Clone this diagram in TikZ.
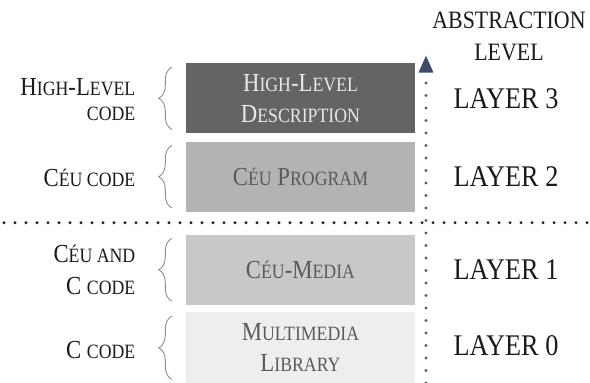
\documentclass[tikz,border=0pt]{standalone}
\usepackage{fontspec}
\setmainfont{Liberation Serif}[FakeStretch=0.875]
\usetikzlibrary{decorations.pathreplacing,arrows.meta}

\definecolor{fillthree}{HTML}{646464}
\definecolor{filltwo}{HTML}{B3B3B3}
\definecolor{fillone}{HTML}{C8C8C8}
\definecolor{fillzero}{HTML}{EEEEEE}
\definecolor{boxink}{HTML}{5A5A5A}
\definecolor{lightink}{HTML}{E8E8E8}
\definecolor{labelink}{HTML}{1A1A1A}
\definecolor{bracegray}{HTML}{8C8C8C}
\definecolor{arrowblue}{HTML}{3C4B68}
\definecolor{dotblue}{HTML}{525A6E}

% faked small capitals: lower-case letters set as smaller capitals
\newcommand\lo[1]{{\fontsize{20.3}{20.3}\selectfont #1}}

\begin{document}
\begin{tikzpicture}[x=1pt,y=-1pt,
  layerbox/.style={draw=none, minimum width=229pt, minimum height=70pt,
    inner sep=0pt, align=center, text=boxink, font=\fontsize{26}{31}\selectfont},
  sidelabel/.style={anchor=base east, inner sep=0pt, text=labelink,
    font=\fontsize{26}{26}\selectfont},
  levellabel/.style={anchor=base, inner sep=0pt, text=labelink,
    font=\fontsize{30}{30}\selectfont},
  headlabel/.style={anchor=base, inner sep=0pt, text=labelink,
    font=\fontsize{25}{25}\selectfont},
  codebrace/.style={draw=bracegray, line width=0.9pt, decorate,
    decoration={brace, amplitude=13pt}},
  dotrow/.style={line width=3.1pt, line cap=round, dash pattern=on 0pt off 11pt},
]
\useasboundingbox (0,0) rectangle (590,383);

% the four layers
\node[layerbox, fill=fillthree, text=lightink] (L3) at (300.5,98.3)
  {H\lo{IGH}-L\lo{EVEL}\\D\lo{ESCRIPTION}};
\node[layerbox, fill=filltwo] (L2) at (300.5,176.7) {C\lo{ÉU} P\lo{ROGRAM}};
\node[layerbox, fill=fillone, minimum height=70.5pt] (L1) at (300.5,269.8) {C\lo{ÉU}-M\lo{EDIA}};
\node[layerbox, fill=fillzero, minimum height=71pt] (L0) at (300.5,347.8)
  {M\lo{ULTIMEDIA}\\L\lo{IBRARY}};

% braces on the left of each layer
\foreach \b in {L3,L2,L1,L0}
  \draw[codebrace] ([xshift=-14pt,yshift=4pt]\b.south west)
                -- ([xshift=-14pt,yshift=-4pt]\b.north west);

% language of each layer
\node[sidelabel] (hl1) at (135.5,95)  {H\lo{IGH}-L\lo{EVEL}};
\node[sidelabel] (hl2) at (135.5,120) {\lo{CODE}};
\node[sidelabel] (cc)  at (135.5,186) {C\lo{ÉU CODE}};
\node[sidelabel] (ca1) at (135.5,262.3) {C\lo{ÉU AND}};
\node[sidelabel] (ca2) at (135.5,294.3) {C \lo{CODE}};
\node[sidelabel] (c0)  at (135.5,358.3) {C \lo{CODE}};

% separator between the Céu layers and the lower layers
\coordinate (sepL) at (4,222.7);
\coordinate (sepR) at (588,222.7);
\draw[dotrow, draw=labelink] (sepL) -- (sepR);

% abstraction axis
\coordinate (abase) at (426,383);
\coordinate (atip) at (426,55.5);
\draw[dotrow, draw=dotblue, dash pattern=on 0pt off 12.5pt,
  -{Triangle[length=17pt,width=14pt,color=arrowblue]}] (abase) -- (atip);

\node[headlabel] (abs1) at (509,28.3) {ABSTRACTION};
\node[headlabel] (abs2) at (509,60) {LEVEL};

\node[levellabel] (lay3) at (506,108.3) {LAYER 3};
\node[levellabel] (lay2) at (506,186.5) {LAYER 2};
\node[levellabel] (lay1) at (506,279.3) {LAYER 1};
\node[levellabel] (lay0) at (506,355.7) {LAYER 0};
\end{tikzpicture}
\end{document}
